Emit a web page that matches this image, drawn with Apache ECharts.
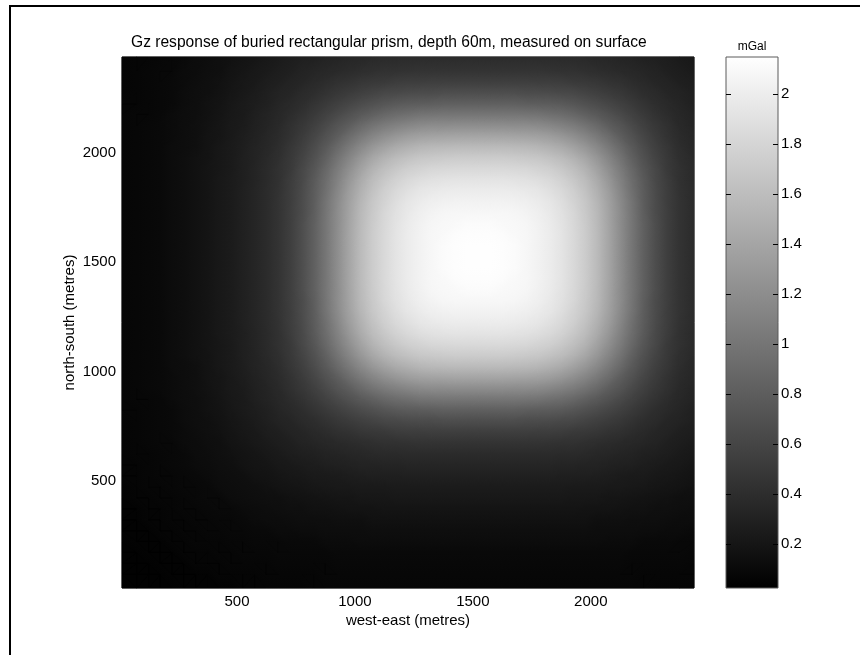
<!DOCTYPE html>
<html>
<head>
<meta charset="utf-8">
<script src="https://cdn.jsdelivr.net/npm/echarts@6/dist/echarts.min.js"></script>
<style>
html,body{margin:0;padding:0;background:#ffffff;}
#chart{width:860px;height:655px;}
</style>
</head>
<body>
<div id="chart"></div>
<script>
// cell centres (metres)
const eastings = [25,75,125,175,225,275,325,375,425,475,525,575,625,675,725,775,825,875,925,975,1025,1075,1125,1175,1225,1275,1325,1375,1425,1475,1525,1575,1625,1675,1725,1775,1825,1875,1925,1975,2025,2075,2125,2175,2225,2275,2325,2375,2425];
const northings = [25,75,125,175,225,275,325,375,425,475,525,575,625,675,725,775,825,875,925,975,1025,1075,1125,1175,1225,1275,1325,1375,1425,1475,1525,1575,1625,1675,1725,1775,1825,1875,1925,1975,2025,2075,2125,2175,2225,2275,2325,2375,2425];

// Gz (mGal), one row per northing (south to north), one value per easting (west to east)
const gz = [
[0.03,0.04,0.04,0.04,0.04,0.05,0.05,0.05,0.05,0.05, 0.06,0.06,0.06,0.06,0.06,0.06,0.07,0.07,0.07,0.07, 0.07,0.07,0.07,0.07,0.07,0.07,0.07,0.07,0.07,0.07, 0.07,0.07,0.07,0.07,0.07,0.07,0.07,0.07,0.07,0.07, 0.07,0.07,0.07,0.07,0.07,0.06,0.06,0.06,0.06],
[0.04,0.04,0.04,0.04,0.05,0.05,0.05,0.05,0.06,0.06, 0.06,0.06,0.07,0.07,0.07,0.07,0.07,0.08,0.08,0.08, 0.08,0.08,0.08,0.08,0.08,0.08,0.08,0.08,0.08,0.08, 0.08,0.08,0.08,0.08,0.08,0.08,0.08,0.08,0.08,0.08, 0.08,0.08,0.08,0.08,0.07,0.07,0.07,0.07,0.07],
[0.04,0.04,0.04,0.05,0.05,0.05,0.06,0.06,0.06,0.07, 0.07,0.07,0.07,0.08,0.08,0.08,0.08,0.08,0.09,0.09, 0.09,0.09,0.09,0.09,0.09,0.09,0.09,0.09,0.09,0.09, 0.09,0.09,0.09,0.09,0.09,0.09,0.09,0.09,0.09,0.09, 0.09,0.09,0.09,0.08,0.08,0.08,0.08,0.08,0.07],
[0.04,0.04,0.05,0.05,0.05,0.06,0.06,0.06,0.07,0.07, 0.08,0.08,0.08,0.09,0.09,0.09,0.09,0.09,0.10,0.10, 0.10,0.10,0.10,0.10,0.10,0.10,0.10,0.10,0.10,0.10, 0.10,0.10,0.10,0.10,0.10,0.10,0.10,0.10,0.10,0.10, 0.10,0.10,0.10,0.09,0.09,0.09,0.09,0.09,0.08],
[0.04,0.05,0.05,0.05,0.06,0.06,0.07,0.07,0.07,0.08, 0.08,0.09,0.09,0.09,0.10,0.10,0.10,0.11,0.11,0.11, 0.12,0.12,0.12,0.12,0.12,0.12,0.12,0.12,0.12,0.12, 0.12,0.12,0.12,0.12,0.12,0.12,0.12,0.12,0.12,0.12, 0.12,0.11,0.11,0.11,0.10,0.10,0.10,0.09,0.09],
[0.05,0.05,0.05,0.06,0.06,0.07,0.07,0.08,0.08,0.09, 0.09,0.10,0.10,0.11,0.11,0.12,0.12,0.13,0.13,0.13, 0.13,0.14,0.14,0.14,0.14,0.14,0.14,0.14,0.14,0.14, 0.14,0.14,0.14,0.14,0.14,0.14,0.14,0.14,0.14,0.14, 0.13,0.13,0.13,0.13,0.12,0.12,0.11,0.11,0.10],
[0.05,0.05,0.06,0.06,0.07,0.07,0.08,0.08,0.09,0.09, 0.10,0.11,0.12,0.12,0.13,0.14,0.14,0.14,0.15,0.15, 0.15,0.16,0.16,0.16,0.16,0.16,0.16,0.16,0.16,0.16, 0.16,0.16,0.16,0.16,0.16,0.16,0.16,0.16,0.16,0.16, 0.15,0.15,0.15,0.14,0.14,0.14,0.13,0.12,0.12],
[0.05,0.05,0.06,0.06,0.07,0.08,0.08,0.09,0.10,0.10, 0.11,0.12,0.13,0.14,0.15,0.15,0.16,0.16,0.17,0.18, 0.18,0.18,0.19,0.19,0.19,0.19,0.19,0.19,0.19,0.19, 0.19,0.19,0.19,0.19,0.19,0.19,0.19,0.19,0.19,0.18, 0.18,0.18,0.17,0.16,0.16,0.15,0.15,0.14,0.13],
[0.05,0.06,0.06,0.07,0.07,0.08,0.09,0.10,0.10,0.12, 0.13,0.14,0.15,0.15,0.16,0.17,0.18,0.19,0.20,0.20, 0.21,0.21,0.21,0.22,0.22,0.22,0.22,0.22,0.22,0.22, 0.22,0.22,0.22,0.22,0.22,0.22,0.22,0.22,0.21,0.21, 0.21,0.20,0.20,0.19,0.18,0.17,0.16,0.15,0.15],
[0.05,0.06,0.07,0.07,0.08,0.09,0.09,0.10,0.12,0.13, 0.14,0.15,0.16,0.18,0.19,0.20,0.21,0.22,0.23,0.23, 0.24,0.24,0.24,0.25,0.25,0.25,0.25,0.25,0.25,0.25, 0.25,0.25,0.25,0.25,0.25,0.25,0.25,0.25,0.24,0.24, 0.24,0.23,0.23,0.22,0.21,0.20,0.19,0.18,0.16],
[0.06,0.06,0.07,0.08,0.08,0.09,0.10,0.11,0.13,0.14, 0.15,0.17,0.18,0.20,0.21,0.22,0.24,0.24,0.25,0.26, 0.27,0.28,0.28,0.28,0.29,0.29,0.29,0.29,0.29,0.29, 0.29,0.29,0.29,0.29,0.29,0.29,0.29,0.28,0.28,0.28, 0.27,0.26,0.25,0.24,0.24,0.22,0.21,0.20,0.18],
[0.06,0.06,0.07,0.08,0.09,0.10,0.11,0.12,0.14,0.15, 0.17,0.19,0.20,0.22,0.23,0.25,0.26,0.28,0.29,0.30, 0.31,0.31,0.32,0.32,0.33,0.33,0.33,0.33,0.33,0.33, 0.33,0.33,0.33,0.33,0.33,0.33,0.33,0.32,0.32,0.31, 0.31,0.30,0.29,0.28,0.26,0.25,0.23,0.22,0.20],
[0.06,0.07,0.07,0.08,0.09,0.10,0.12,0.13,0.15,0.16, 0.18,0.20,0.22,0.24,0.26,0.28,0.29,0.31,0.32,0.34, 0.35,0.36,0.37,0.37,0.38,0.38,0.38,0.38,0.38,0.38, 0.38,0.38,0.38,0.38,0.38,0.38,0.38,0.37,0.37,0.36, 0.35,0.34,0.32,0.31,0.29,0.28,0.26,0.24,0.22],
[0.06,0.07,0.08,0.09,0.09,0.11,0.12,0.14,0.15,0.18, 0.20,0.22,0.24,0.26,0.28,0.31,0.33,0.35,0.36,0.38, 0.40,0.41,0.43,0.43,0.44,0.45,0.45,0.45,0.45,0.45, 0.45,0.45,0.45,0.45,0.45,0.45,0.44,0.43,0.43,0.41, 0.40,0.38,0.36,0.35,0.33,0.31,0.28,0.26,0.24],
[0.06,0.07,0.08,0.09,0.10,0.11,0.13,0.15,0.16,0.19, 0.21,0.23,0.26,0.28,0.31,0.33,0.36,0.39,0.42,0.44, 0.47,0.49,0.50,0.52,0.53,0.53,0.54,0.54,0.54,0.54, 0.54,0.54,0.54,0.54,0.54,0.53,0.53,0.52,0.50,0.49, 0.47,0.44,0.42,0.39,0.36,0.33,0.31,0.28,0.26],
[0.06,0.07,0.08,0.09,0.10,0.12,0.14,0.15,0.17,0.20, 0.22,0.25,0.28,0.31,0.33,0.37,0.40,0.44,0.48,0.51, 0.55,0.58,0.61,0.62,0.64,0.65,0.65,0.66,0.66,0.66, 0.66,0.66,0.66,0.66,0.65,0.65,0.64,0.62,0.61,0.58, 0.55,0.51,0.48,0.44,0.40,0.37,0.33,0.31,0.28],
[0.07,0.07,0.08,0.09,0.10,0.12,0.14,0.16,0.18,0.21, 0.24,0.26,0.29,0.33,0.36,0.40,0.45,0.50,0.55,0.60, 0.65,0.69,0.73,0.76,0.78,0.79,0.80,0.81,0.81,0.81, 0.81,0.81,0.81,0.81,0.80,0.79,0.78,0.76,0.73,0.69, 0.65,0.60,0.55,0.50,0.45,0.40,0.36,0.33,0.29],
[0.07,0.08,0.08,0.09,0.11,0.13,0.14,0.16,0.19,0.22, 0.24,0.28,0.31,0.35,0.39,0.44,0.50,0.56,0.63,0.70, 0.76,0.82,0.88,0.92,0.95,0.98,0.99,1.00,1.00,1.00, 1.00,1.00,1.00,1.00,0.99,0.98,0.95,0.92,0.88,0.82, 0.76,0.70,0.63,0.56,0.50,0.44,0.39,0.35,0.31],
[0.07,0.08,0.09,0.10,0.11,0.13,0.15,0.17,0.20,0.23, 0.25,0.29,0.32,0.36,0.42,0.48,0.55,0.63,0.72,0.80, 0.90,0.98,1.05,1.10,1.14,1.17,1.19,1.19,1.20,1.20, 1.20,1.20,1.20,1.19,1.19,1.17,1.14,1.10,1.05,0.98, 0.90,0.80,0.72,0.63,0.55,0.48,0.42,0.36,0.32],
[0.07,0.08,0.09,0.10,0.11,0.13,0.15,0.18,0.20,0.23, 0.26,0.30,0.34,0.38,0.44,0.51,0.60,0.70,0.80,0.92, 1.03,1.13,1.21,1.28,1.33,1.36,1.38,1.39,1.40,1.40, 1.40,1.40,1.40,1.39,1.38,1.36,1.33,1.28,1.21,1.13, 1.03,0.92,0.80,0.70,0.60,0.51,0.44,0.38,0.34],
[0.07,0.08,0.09,0.10,0.12,0.13,0.15,0.18,0.21,0.24, 0.27,0.31,0.35,0.40,0.47,0.55,0.65,0.76,0.90,1.03, 1.16,1.28,1.37,1.45,1.50,1.54,1.56,1.57,1.58,1.58, 1.58,1.58,1.58,1.57,1.56,1.54,1.50,1.45,1.37,1.28, 1.16,1.03,0.90,0.76,0.65,0.55,0.47,0.40,0.35],
[0.07,0.08,0.09,0.10,0.12,0.14,0.16,0.18,0.21,0.24, 0.28,0.31,0.36,0.41,0.49,0.58,0.69,0.82,0.98,1.13, 1.28,1.41,1.51,1.59,1.64,1.68,1.70,1.71,1.72,1.72, 1.72,1.72,1.72,1.71,1.70,1.68,1.64,1.59,1.51,1.41, 1.28,1.13,0.98,0.82,0.69,0.58,0.49,0.41,0.36],
[0.07,0.08,0.09,0.10,0.12,0.14,0.16,0.19,0.21,0.24, 0.28,0.32,0.37,0.43,0.50,0.61,0.73,0.88,1.05,1.21, 1.37,1.51,1.61,1.69,1.75,1.78,1.81,1.82,1.83,1.83, 1.83,1.83,1.83,1.82,1.81,1.78,1.75,1.69,1.61,1.51, 1.37,1.21,1.05,0.88,0.73,0.61,0.50,0.43,0.37],
[0.07,0.08,0.09,0.10,0.12,0.14,0.16,0.19,0.22,0.25, 0.28,0.32,0.37,0.43,0.52,0.62,0.76,0.92,1.10,1.28, 1.45,1.59,1.69,1.77,1.83,1.87,1.90,1.91,1.92,1.92, 1.92,1.92,1.92,1.91,1.90,1.87,1.83,1.77,1.69,1.59, 1.45,1.28,1.10,0.92,0.76,0.62,0.52,0.43,0.37],
[0.07,0.08,0.09,0.10,0.12,0.14,0.16,0.19,0.22,0.25, 0.29,0.33,0.38,0.44,0.53,0.64,0.78,0.95,1.14,1.33, 1.50,1.64,1.75,1.83,1.89,1.94,1.96,1.98,1.99,1.99, 1.99,1.99,1.99,1.98,1.96,1.94,1.89,1.83,1.75,1.64, 1.50,1.33,1.14,0.95,0.78,0.64,0.53,0.44,0.38],
[0.07,0.08,0.09,0.10,0.12,0.14,0.16,0.19,0.22,0.25, 0.29,0.33,0.38,0.45,0.53,0.65,0.79,0.98,1.17,1.36, 1.54,1.68,1.78,1.87,1.94,1.98,2.01,2.03,2.04,2.04, 2.04,2.04,2.04,2.03,2.01,1.98,1.94,1.87,1.78,1.68, 1.54,1.36,1.17,0.98,0.79,0.65,0.53,0.45,0.38],
[0.07,0.08,0.09,0.10,0.12,0.14,0.16,0.19,0.22,0.25, 0.29,0.33,0.38,0.45,0.54,0.65,0.80,0.99,1.19,1.38, 1.56,1.70,1.81,1.90,1.96,2.01,2.05,2.07,2.08,2.08, 2.08,2.08,2.08,2.07,2.05,2.01,1.96,1.90,1.81,1.70, 1.56,1.38,1.19,0.99,0.80,0.65,0.54,0.45,0.38],
[0.07,0.08,0.09,0.10,0.12,0.14,0.16,0.19,0.22,0.25, 0.29,0.33,0.38,0.45,0.54,0.66,0.81,1.00,1.19,1.39, 1.57,1.71,1.82,1.91,1.98,2.03,2.07,2.09,2.10,2.11, 2.11,2.11,2.10,2.09,2.07,2.03,1.98,1.91,1.82,1.71, 1.57,1.39,1.19,1.00,0.81,0.66,0.54,0.45,0.38],
[0.07,0.08,0.09,0.10,0.12,0.14,0.16,0.19,0.22,0.25, 0.29,0.33,0.38,0.45,0.54,0.66,0.81,1.00,1.20,1.40, 1.58,1.72,1.83,1.92,1.99,2.04,2.08,2.10,2.12,2.13, 2.13,2.13,2.12,2.10,2.08,2.04,1.99,1.92,1.83,1.72, 1.58,1.40,1.20,1.00,0.81,0.66,0.54,0.45,0.38],
[0.07,0.08,0.09,0.10,0.12,0.14,0.16,0.19,0.22,0.25, 0.29,0.33,0.38,0.45,0.54,0.66,0.81,1.00,1.20,1.40, 1.58,1.72,1.83,1.92,1.99,2.04,2.08,2.11,2.13,2.14, 2.14,2.14,2.13,2.11,2.08,2.04,1.99,1.92,1.83,1.72, 1.58,1.40,1.20,1.00,0.81,0.66,0.54,0.45,0.38],
[0.07,0.08,0.09,0.10,0.12,0.14,0.16,0.19,0.22,0.25, 0.29,0.33,0.38,0.45,0.54,0.66,0.81,1.00,1.20,1.40, 1.58,1.72,1.83,1.92,1.99,2.04,2.08,2.11,2.13,2.14, 2.14,2.14,2.13,2.11,2.08,2.04,1.99,1.92,1.83,1.72, 1.58,1.40,1.20,1.00,0.81,0.66,0.54,0.45,0.38],
[0.07,0.08,0.09,0.10,0.12,0.14,0.16,0.19,0.22,0.25, 0.29,0.33,0.38,0.45,0.54,0.66,0.81,1.00,1.20,1.40, 1.58,1.72,1.83,1.92,1.99,2.04,2.08,2.11,2.13,2.14, 2.14,2.14,2.13,2.11,2.08,2.04,1.99,1.92,1.83,1.72, 1.58,1.40,1.20,1.00,0.81,0.66,0.54,0.45,0.38],
[0.07,0.08,0.09,0.10,0.12,0.14,0.16,0.19,0.22,0.25, 0.29,0.33,0.38,0.45,0.54,0.66,0.81,1.00,1.20,1.40, 1.58,1.72,1.83,1.92,1.99,2.04,2.08,2.10,2.12,2.13, 2.13,2.13,2.12,2.10,2.08,2.04,1.99,1.92,1.83,1.72, 1.58,1.40,1.20,1.00,0.81,0.66,0.54,0.45,0.38],
[0.07,0.08,0.09,0.10,0.12,0.14,0.16,0.19,0.22,0.25, 0.29,0.33,0.38,0.45,0.54,0.66,0.81,1.00,1.19,1.39, 1.57,1.71,1.82,1.91,1.98,2.03,2.07,2.09,2.10,2.11, 2.11,2.11,2.10,2.09,2.07,2.03,1.98,1.91,1.82,1.71, 1.57,1.39,1.19,1.00,0.81,0.66,0.54,0.45,0.38],
[0.07,0.08,0.09,0.10,0.12,0.14,0.16,0.19,0.22,0.25, 0.29,0.33,0.38,0.45,0.54,0.65,0.80,0.99,1.19,1.38, 1.56,1.70,1.81,1.90,1.96,2.01,2.05,2.07,2.08,2.08, 2.08,2.08,2.08,2.07,2.05,2.01,1.96,1.90,1.81,1.70, 1.56,1.38,1.19,0.99,0.80,0.65,0.54,0.45,0.38],
[0.07,0.08,0.09,0.10,0.12,0.14,0.16,0.19,0.22,0.25, 0.29,0.33,0.38,0.45,0.53,0.65,0.79,0.98,1.17,1.36, 1.54,1.68,1.78,1.87,1.94,1.98,2.01,2.03,2.04,2.04, 2.04,2.04,2.04,2.03,2.01,1.98,1.94,1.87,1.78,1.68, 1.54,1.36,1.17,0.98,0.79,0.65,0.53,0.45,0.38],
[0.07,0.08,0.09,0.10,0.12,0.14,0.16,0.19,0.22,0.25, 0.29,0.33,0.38,0.44,0.53,0.64,0.78,0.95,1.14,1.33, 1.50,1.64,1.75,1.83,1.89,1.94,1.96,1.98,1.99,1.99, 1.99,1.99,1.99,1.98,1.96,1.94,1.89,1.83,1.75,1.64, 1.50,1.33,1.14,0.95,0.78,0.64,0.53,0.44,0.38],
[0.07,0.08,0.09,0.10,0.12,0.14,0.16,0.19,0.22,0.25, 0.28,0.32,0.37,0.43,0.52,0.62,0.76,0.92,1.10,1.28, 1.45,1.59,1.69,1.77,1.83,1.87,1.90,1.91,1.92,1.92, 1.92,1.92,1.92,1.91,1.90,1.87,1.83,1.77,1.69,1.59, 1.45,1.28,1.10,0.92,0.76,0.62,0.52,0.43,0.37],
[0.07,0.08,0.09,0.10,0.12,0.14,0.16,0.19,0.21,0.24, 0.28,0.32,0.37,0.43,0.50,0.61,0.73,0.88,1.05,1.21, 1.37,1.51,1.61,1.69,1.75,1.78,1.81,1.82,1.83,1.83, 1.83,1.83,1.83,1.82,1.81,1.78,1.75,1.69,1.61,1.51, 1.37,1.21,1.05,0.88,0.73,0.61,0.50,0.43,0.37],
[0.07,0.08,0.09,0.10,0.12,0.14,0.16,0.18,0.21,0.24, 0.28,0.31,0.36,0.41,0.49,0.58,0.69,0.82,0.98,1.13, 1.28,1.41,1.51,1.59,1.64,1.68,1.70,1.71,1.72,1.72, 1.72,1.72,1.72,1.71,1.70,1.68,1.64,1.59,1.51,1.41, 1.28,1.13,0.98,0.82,0.69,0.58,0.49,0.41,0.36],
[0.07,0.08,0.09,0.10,0.12,0.13,0.15,0.18,0.21,0.24, 0.27,0.31,0.35,0.40,0.47,0.55,0.65,0.76,0.90,1.03, 1.16,1.28,1.37,1.45,1.50,1.54,1.56,1.57,1.58,1.58, 1.58,1.58,1.58,1.57,1.56,1.54,1.50,1.45,1.37,1.28, 1.16,1.03,0.90,0.76,0.65,0.55,0.47,0.40,0.35],
[0.07,0.08,0.09,0.10,0.11,0.13,0.15,0.18,0.20,0.23, 0.26,0.30,0.34,0.38,0.44,0.51,0.60,0.70,0.80,0.92, 1.03,1.13,1.21,1.28,1.33,1.36,1.38,1.39,1.40,1.40, 1.40,1.40,1.40,1.39,1.38,1.36,1.33,1.28,1.21,1.13, 1.03,0.92,0.80,0.70,0.60,0.51,0.44,0.38,0.34],
[0.07,0.08,0.09,0.10,0.11,0.13,0.15,0.17,0.20,0.23, 0.25,0.29,0.32,0.36,0.42,0.48,0.55,0.63,0.72,0.80, 0.90,0.98,1.05,1.10,1.14,1.17,1.19,1.19,1.20,1.20, 1.20,1.20,1.20,1.19,1.19,1.17,1.14,1.10,1.05,0.98, 0.90,0.80,0.72,0.63,0.55,0.48,0.42,0.36,0.32],
[0.07,0.08,0.08,0.09,0.11,0.13,0.14,0.16,0.19,0.22, 0.24,0.28,0.31,0.35,0.39,0.44,0.50,0.56,0.63,0.70, 0.76,0.82,0.88,0.92,0.95,0.98,0.99,1.00,1.00,1.00, 1.00,1.00,1.00,1.00,0.99,0.98,0.95,0.92,0.88,0.82, 0.76,0.70,0.63,0.56,0.50,0.44,0.39,0.35,0.31],
[0.07,0.07,0.08,0.09,0.10,0.12,0.14,0.16,0.18,0.21, 0.24,0.26,0.29,0.33,0.36,0.40,0.45,0.50,0.55,0.60, 0.65,0.69,0.73,0.76,0.78,0.79,0.80,0.81,0.81,0.81, 0.81,0.81,0.81,0.81,0.80,0.79,0.78,0.76,0.73,0.69, 0.65,0.60,0.55,0.50,0.45,0.40,0.36,0.33,0.29],
[0.06,0.07,0.08,0.09,0.10,0.12,0.14,0.15,0.17,0.20, 0.22,0.25,0.28,0.31,0.33,0.37,0.40,0.44,0.48,0.51, 0.55,0.58,0.61,0.62,0.64,0.65,0.65,0.66,0.66,0.66, 0.66,0.66,0.66,0.66,0.65,0.65,0.64,0.62,0.61,0.58, 0.55,0.51,0.48,0.44,0.40,0.37,0.33,0.31,0.28],
[0.06,0.07,0.08,0.09,0.10,0.11,0.13,0.15,0.16,0.19, 0.21,0.23,0.26,0.28,0.31,0.33,0.36,0.39,0.42,0.44, 0.47,0.49,0.50,0.52,0.53,0.53,0.54,0.54,0.54,0.54, 0.54,0.54,0.54,0.54,0.54,0.53,0.53,0.52,0.50,0.49, 0.47,0.44,0.42,0.39,0.36,0.33,0.31,0.28,0.26],
[0.06,0.07,0.08,0.09,0.09,0.11,0.12,0.14,0.15,0.18, 0.20,0.22,0.24,0.26,0.28,0.31,0.33,0.35,0.36,0.38, 0.40,0.41,0.43,0.43,0.44,0.45,0.45,0.45,0.45,0.45, 0.45,0.45,0.45,0.45,0.45,0.45,0.44,0.43,0.43,0.41, 0.40,0.38,0.36,0.35,0.33,0.31,0.28,0.26,0.24],
[0.06,0.07,0.07,0.08,0.09,0.10,0.12,0.13,0.15,0.16, 0.18,0.20,0.22,0.24,0.26,0.28,0.29,0.31,0.32,0.34, 0.35,0.36,0.37,0.37,0.38,0.38,0.38,0.38,0.38,0.38, 0.38,0.38,0.38,0.38,0.38,0.38,0.38,0.37,0.37,0.36, 0.35,0.34,0.32,0.31,0.29,0.28,0.26,0.24,0.22]
];

const xTicks = [500, 1000, 1500, 2000];
const yTicks = [500, 1000, 1500, 2000];
const cbTicks = [0.2, 0.4, 0.6, 0.8, 1, 1.2, 1.4, 1.6, 1.8, 2];
const colorRange = [0.022, 2.146];      // colour-bar extent (mGal)
const axisRange = [12.5, 2437.5];       // map extent (metres)
const cellSize = 50;                    // grid spacing (metres)

const nCols = eastings.length, nRows = northings.length;
const cells = [];
for (let r = 0; r < nRows; r++) {
  for (let c = 0; c < nCols; c++) {
    cells.push([eastings[c], northings[r], gz[r][c]]);
  }
}

const FONT = "'Liberation Sans', Arial, Helvetica, sans-serif";
const plain = function (v) { return String(v); };
const half = cellSize / 2;

// flat cell under the shading, slightly enlarged so anti-aliased seams never show the page
function renderCell(params, api) {
  const x = api.value(0), y = api.value(1);
  const a = api.coord([x - half, y + half]);
  const b = api.coord([x + half, y - half]);
  const cs = params.coordSys;
  const shape = echarts.graphic.clipRectByRect(
    { x: a[0] - 1, y: a[1] - 1, width: b[0] - a[0] + 2, height: b[1] - a[1] + 2 },
    { x: cs.x, y: cs.y, width: cs.width, height: cs.height }
  );
  return shape && { type: 'rect', shape: shape, style: { fill: api.visual('color') } };
}

// one triangle shaded linearly between the colours of its three grid nodes
function shadedTriangle(p, g, col) {
  const d1x = p[1][0] - p[0][0], d1y = p[1][1] - p[0][1];
  const d2x = p[2][0] - p[0][0], d2y = p[2][1] - p[0][1];
  const det = d1x * d2y - d2x * d1y;
  let iMin = 0, iMax = 0;
  for (let i = 1; i < 3; i++) {
    if (g[i] < g[iMin]) iMin = i;
    if (g[i] > g[iMax]) iMax = i;
  }
  let fill = col[0];
  if (Math.abs(det) > 1e-9 && g[iMax] - g[iMin] > 1e-9) {
    const a = ((g[1] - g[0]) * d2y - (g[2] - g[0]) * d1y) / det;
    const b = ((g[2] - g[0]) * d1x - (g[1] - g[0]) * d2x) / det;
    const n2 = a * a + b * b;
    if (n2 > 1e-14) {
      const s = (g[iMin] - g[0]) / n2, e = (g[iMax] - g[0]) / n2;
      fill = new echarts.graphic.LinearGradient(
        p[0][0] + a * s, p[0][1] + b * s, p[0][0] + a * e, p[0][1] + b * e,
        [{ offset: 0, color: col[iMin] }, { offset: 1, color: col[iMax] }], true);
    }
  }
  return { type: 'polygon', shape: { points: p }, style: { fill: fill, stroke: fill, lineWidth: 0.5 } };
}

// each grid node draws the shaded patch between itself and its east / north neighbours
function renderPatch(params, api) {
  const idx = params.dataIndexInside;
  const r = Math.floor(idx / nCols), c = idx % nCols;
  if (r >= nRows - 1 || c >= nCols - 1) return null;
  const iBL = idx, iBR = idx + 1, iTL = idx + nCols, iTR = idx + nCols + 1;
  const xl = c === 0 ? axisRange[0] : api.value(0, iBL);
  const xr = c === nCols - 2 ? axisRange[1] : api.value(0, iBR);
  const yb = r === 0 ? axisRange[0] : api.value(1, iBL);
  const yt = r === nRows - 2 ? axisRange[1] : api.value(1, iTL);
  const BL = api.coord([xl, yb]), BR = api.coord([xr, yb]);
  const TL = api.coord([xl, yt]), TR = api.coord([xr, yt]);
  const vBL = api.value(2, iBL), vBR = api.value(2, iBR), vTL = api.value(2, iTL), vTR = api.value(2, iTR);
  const cBL = api.visual('color', iBL), cBR = api.visual('color', iBR);
  const cTL = api.visual('color', iTL), cTR = api.visual('color', iTR);
  let tris;
  if (Math.abs(vBL - vTR) <= Math.abs(vBR - vTL)) {
    tris = [
      shadedTriangle([BL, BR, TR], [vBL, vBR, vTR], [cBL, cBR, cTR]),
      shadedTriangle([BL, TR, TL], [vBL, vTR, vTL], [cBL, cTR, cTL])
    ];
  } else {
    tris = [
      shadedTriangle([BL, BR, TL], [vBL, vBR, vTL], [cBL, cBR, cTL]),
      shadedTriangle([BR, TR, TL], [vBR, vTR, vTL], [cBR, cTR, cTL])
    ];
  }
  return { type: 'group', children: tris };
}

function renderBar(params, api) {
  const p0 = api.coord([0, api.value(2)]);
  const p1 = api.coord([1, api.value(1)]);
  const children = [{
    type: 'rect',
    shape: { x: p0[0], y: p0[1], width: p1[0] - p0[0], height: p1[1] - p0[1] },
    style: {
      fill: new echarts.graphic.LinearGradient(0, 0, 0, 1, [
        { offset: 0, color: '#ffffff' }, { offset: 1, color: '#000000' }
      ]),
      stroke: '#5a5a5a', lineWidth: 1
    }
  }];
  cbTicks.forEach(function (t) {
    const y = Math.round(api.coord([0, t])[1]) + 0.5;
    children.push({ type: 'line', shape: { x1: p0[0], y1: y, x2: p0[0] + 5, y2: y }, style: { stroke: '#000', lineWidth: 1 } });
    children.push({ type: 'line', shape: { x1: p1[0] - 5, y1: y, x2: p1[0], y2: y }, style: { stroke: '#000', lineWidth: 1 } });
  });
  return { type: 'group', children: children };
}

const labelStyle = { fontSize: 15, color: '#000', fontFamily: FONT };

const chart = echarts.init(document.getElementById('chart'), null, { renderer: 'canvas' });
chart.setOption({
  animation: false,
  backgroundColor: '#ffffff',
  textStyle: { fontFamily: FONT },
  title: {
    text: 'Gz response of buried rectangular prism, depth 60m, measured on surface',
    left: 131, top: 35, padding: 0, textAlign: 'left',
    textStyle: { fontSize: 15.6, fontWeight: 'normal', color: '#000', fontFamily: FONT }
  },
  grid: [
    { left: 122, top: 57, width: 572, height: 531, show: true, borderColor: '#000', borderWidth: 1, backgroundColor: '#000' },
    { left: 726, top: 57, width: 52, height: 531, show: false }
  ],
  xAxis: [
    {
      gridIndex: 0, type: 'value', position: 'bottom', min: axisRange[0], max: axisRange[1],
      axisLine: { show: false }, axisTick: { show: false }, splitLine: { show: false },
      axisLabel: Object.assign({ customValues: xTicks, margin: 6, formatter: plain }, labelStyle),
      name: 'west-east (metres)', nameLocation: 'middle', nameGap: 25, nameMoveOverlap: false, nameTextStyle: labelStyle
    },
    { gridIndex: 1, type: 'value', min: 0, max: 1, show: false }
  ],
  yAxis: [
    {
      gridIndex: 0, type: 'value', position: 'left', min: axisRange[0], max: axisRange[1],
      axisLine: { show: false }, axisTick: { show: false }, splitLine: { show: false },
      axisLabel: Object.assign({ customValues: yTicks, margin: 6, formatter: plain }, labelStyle),
      name: 'north-south (metres)', nameLocation: 'middle', nameGap: 45, nameMoveOverlap: false, nameTextStyle: labelStyle
    },
    {
      gridIndex: 1, type: 'value', position: 'right', min: colorRange[0], max: colorRange[1],
      axisLine: { show: false }, splitLine: { show: false }, axisTick: { show: false },
      axisLabel: Object.assign({ customValues: cbTicks, margin: 3, formatter: plain }, labelStyle)
    }
  ],
  visualMap: {
    type: 'continuous', show: false, seriesIndex: [0, 1], dimension: 2,
    min: colorRange[0], max: colorRange[1],
    inRange: { color: ['#000000', '#ffffff'] }
  },
  series: [
    {
      type: 'custom', name: 'Gz cells', coordinateSystem: 'cartesian2d', xAxisIndex: 0, yAxisIndex: 0,
      silent: true, data: cells, encode: { x: 0, y: 1 }, renderItem: renderCell, z: 1
    },
    {
      type: 'custom', name: 'Gz', coordinateSystem: 'cartesian2d', xAxisIndex: 0, yAxisIndex: 0,
      silent: true, data: cells, encode: { x: 0, y: 1 }, renderItem: renderPatch, z: 2
    },
    {
      type: 'custom', name: 'colour bar', coordinateSystem: 'cartesian2d', xAxisIndex: 1, yAxisIndex: 1,
      silent: true, data: [[0, colorRange[0], colorRange[1]]], encode: { x: 0, y: [1, 2] }, renderItem: renderBar
    }
  ],
  graphic: [
    { type: 'text', x: 752, y: 47, style: { text: 'mGal', fontSize: 12, fontFamily: FONT, fill: '#000', align: 'center', verticalAlign: 'middle' } },
    { type: 'line', shape: { x1: 9, y1: 6, x2: 860, y2: 6 }, style: { stroke: '#000', lineWidth: 2 } },
    { type: 'line', shape: { x1: 10, y1: 5, x2: 10, y2: 655 }, style: { stroke: '#000', lineWidth: 2 } }
  ]
});

gz.forEach(function (row, i) {
  if (row.length !== nCols) throw new Error('row ' + i + ' has ' + row.length + ' values');
});
if (gz.length !== nRows) throw new Error('gz has ' + gz.length + ' rows');
</script>
</body>
</html>
